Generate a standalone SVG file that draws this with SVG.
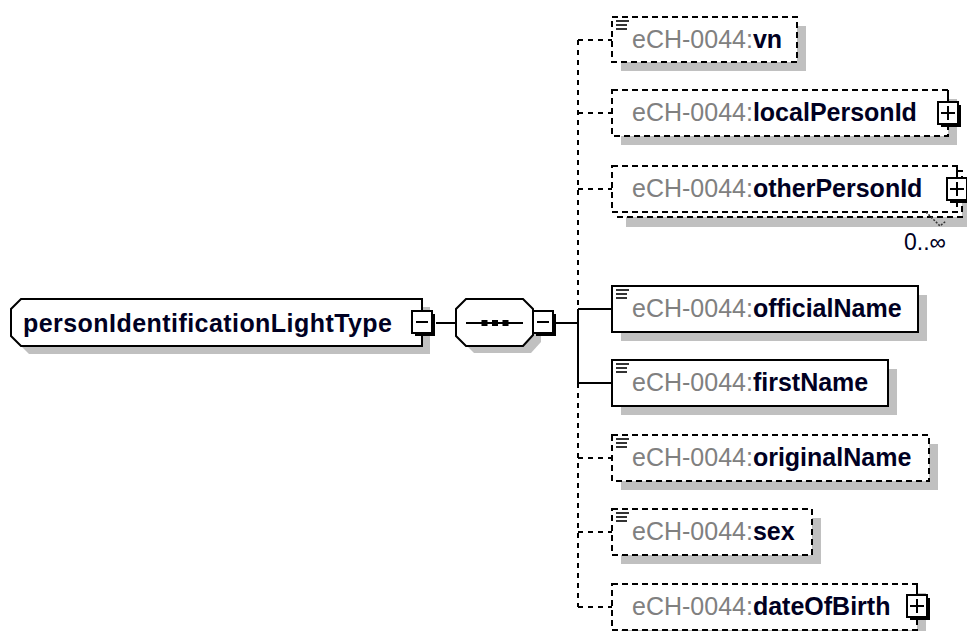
<svg xmlns="http://www.w3.org/2000/svg" width="967" height="631" viewBox="0 0 967 631">
<defs>
<style>
.shadow{fill:#c0c0c0}
.box{fill:#fff;stroke:#000;stroke-width:2}
.dbox{fill:#fff;stroke:#000;stroke-width:2;stroke-dasharray:6,4}
.conn{fill:none;stroke:#000;stroke-width:2}
.dconn{fill:none;stroke:#000;stroke-width:2;stroke-dasharray:5,5}
.t{font-family:"Liberation Sans",Arial,sans-serif;font-size:25px}
.pre{fill:#808080;font-weight:normal}
.nm{fill:#000022;font-weight:bold}
.icon{stroke:#000;stroke-width:1.6}
.stub{stroke:#000;stroke-width:2}
</style>
<g id="minus">
<rect x="3" y="3" width="20" height="22" fill="#000"/>
<rect x="0" y="0" width="20" height="22" fill="#fff" stroke="#000" stroke-width="2"/>
<line x1="4" y1="11" x2="16" y2="11" stroke="#000" stroke-width="2"/>
</g>
<g id="plus">
<rect x="3" y="3" width="20" height="22" fill="#000"/>
<rect x="0" y="0" width="20" height="22" fill="#fff" stroke="#000" stroke-width="2"/>
<line x1="3" y1="11" x2="17" y2="11" stroke="#000" stroke-width="2"/>
<line x1="10" y1="4" x2="10" y2="18" stroke="#000" stroke-width="2"/>
</g>
<g id="icon">
<line class="icon" x1="0" y1="0" x2="13" y2="0"/>
<line class="icon" x1="0" y1="4" x2="11" y2="4"/>
<line class="icon" x1="0" y1="8" x2="11" y2="8"/>
</g>
</defs>
<rect x="0" y="0" width="967" height="631" fill="#fff"/>

<g id="connectors">
<line class="conn" x1="436" y1="323" x2="456" y2="323"/>
<line class="conn" x1="556" y1="323" x2="578" y2="323"/>
<path class="conn" d="M578,309 V383 M578,309 H612 M578,383 H612"/>
<path class="dconn" d="M578,40 V309 M578,383 V607"/>
<path class="dconn" d="M578,40 H612 M578,113 H612 M578,189 H612 M578,458 H612 M578,532 H612 M578,607 H612"/>
</g>

<g id="root">
<path class="shadow" d="M29,307 H430 V354 H29 L19,344 V317 Z"/>
<path class="box" d="M21,299 H422 V346 H21 L11,336 V309 Z"/>
<text class="t nm" x="23" y="332" font-size="26" textLength="369" lengthAdjust="spacing">personIdentificationLightType</text>
<use href="#minus" x="412" y="311"/>
</g>

<g id="sequence">
<path class="shadow" d="M474,307 H531 L541,317 V342 L531,353 H474 L464,343 V317 Z"/>
<path class="box" d="M466,299 H523 L533,309 V335 L523,346 H466 L456,336 V309 Z"/>
<line x1="466" y1="323" x2="523" y2="323" stroke="#000" stroke-width="2"/>
<rect x="481.5" y="320" width="6" height="6" fill="#000"/>
<rect x="492" y="320" width="6" height="6" fill="#000"/>
<rect x="502.5" y="320" width="6" height="6" fill="#000"/>
<use href="#minus" x="533" y="311"/>
</g>

<g id="vn">
<rect class="shadow" x="621" y="26" width="185" height="45"/>
<rect class="dbox" x="612" y="17" width="185" height="45"/>
<use href="#icon" x="616" y="21"/>
<text class="t" x="632" y="48"><tspan class="pre">eCH-0044:</tspan><tspan class="nm">vn</tspan></text>
</g>

<g id="localPersonId">
<rect class="shadow" x="621" y="99" width="336" height="46"/>
<rect class="dbox" x="612" y="90" width="336" height="46"/>
<text class="t" x="632" y="121"><tspan class="pre">eCH-0044:</tspan><tspan class="nm">localPersonId</tspan></text>
<line class="stub" x1="948" y1="90" x2="948" y2="102"/>
<use href="#plus" x="938" y="102"/>
</g>

<g id="otherPersonId">
<rect class="shadow" x="626" y="180" width="345" height="47"/>
<rect class="dbox" x="617" y="171" width="345" height="46"/>
<rect class="dbox" x="612" y="166" width="345" height="46"/>
<text class="t" x="632" y="197"><tspan class="pre">eCH-0044:</tspan><tspan class="nm">otherPersonId</tspan></text>
<line class="stub" x1="957" y1="166" x2="957" y2="178"/>
<use href="#plus" x="947" y="178"/>
<polyline points="926,212 940,226 946,221" fill="none" stroke="#333" stroke-width="1.5" stroke-dasharray="2,1.5"/>
<text x="946" y="250" text-anchor="end" font-family="'Liberation Sans',Arial,sans-serif" font-size="23" fill="#000022">0..∞</text>
</g>

<g id="officialName">
<rect class="shadow" x="621" y="295" width="306" height="46"/>
<rect class="box" x="612" y="286" width="306" height="46"/>
<use href="#icon" x="616" y="290"/>
<text class="t" x="632" y="317"><tspan class="pre">eCH-0044:</tspan><tspan class="nm">officialName</tspan></text>
</g>

<g id="firstName">
<rect class="shadow" x="621" y="369" width="276" height="46"/>
<rect class="box" x="612" y="360" width="276" height="46"/>
<use href="#icon" x="616" y="364"/>
<text class="t" x="632" y="391"><tspan class="pre">eCH-0044:</tspan><tspan class="nm">firstName</tspan></text>
</g>

<g id="originalName">
<rect class="shadow" x="621" y="444" width="317" height="46"/>
<rect class="dbox" x="612" y="435" width="317" height="46"/>
<use href="#icon" x="616" y="439"/>
<text class="t" x="632" y="466"><tspan class="pre">eCH-0044:</tspan><tspan class="nm">originalName</tspan></text>
</g>

<g id="sex">
<rect class="shadow" x="621" y="518" width="200" height="46"/>
<rect class="dbox" x="612" y="509" width="200" height="46"/>
<use href="#icon" x="616" y="513"/>
<text class="t" x="632" y="540"><tspan class="pre">eCH-0044:</tspan><tspan class="nm">sex</tspan></text>
</g>

<g id="dateOfBirth">
<rect class="shadow" x="621" y="593" width="305" height="46"/>
<rect class="dbox" x="612" y="584" width="305" height="46"/>
<text class="t" x="632" y="615"><tspan class="pre">eCH-0044:</tspan><tspan class="nm">dateOfBirth</tspan></text>
<line class="stub" x1="917" y1="584" x2="917" y2="595"/>
<use href="#plus" x="907" y="595"/>
</g>
</svg>
